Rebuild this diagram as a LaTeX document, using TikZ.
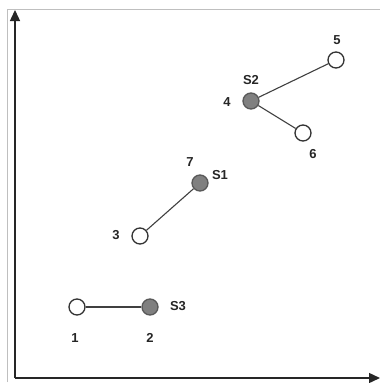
\documentclass[tikz,border=0pt]{standalone}
\usepackage{fontspec}
\setmainfont{Liberation Sans}
\usetikzlibrary{arrows.meta}
\begin{document}
\begin{tikzpicture}[x=1pt,y=-1pt,
  opennode/.style={circle,draw=black!80,line width=1.3pt,fill=white,minimum size=16pt,inner sep=0pt},
  fullnode/.style={circle,draw=black!65,line width=1.3pt,fill=black!50,minimum size=16pt,inner sep=0pt},
  lbl/.style={font=\fontsize{13}{15}\selectfont\bfseries,inner sep=0pt,text=black!85},
  link/.style={draw=black!75,line width=1.1pt}]
\useasboundingbox (0,0) rectangle (380,383);
\fill[white] (0,0) rectangle (380,383);
\draw[black!25,line width=0.8pt] (7,382) -- (7,9) -- (380,9);
\coordinate (o) at (15,378);
\coordinate (yt) at (15,10);
\coordinate (xt) at (380,378);
\draw[black!85,line width=1.4pt,-{Triangle[length=11pt,width=10pt]}] (o) -- (yt);
\draw[black!85,line width=1.4pt,-{Triangle[length=11pt,width=10pt]}] (o) -- (xt);
\node[opennode] (n1) at (77,307) {};
\node[fullnode] (n2) at (150,307) {};
\node[opennode] (n3) at (140,236) {};
\node[fullnode] (n7) at (200,183) {};
\node[fullnode] (n4) at (251,101) {};
\node[opennode] (n5) at (336,60) {};
\node[opennode] (n6) at (303,133) {};
\draw[link] (n1) -- (n2);
\draw[link] (n3) -- (n7);
\draw[link] (n4) -- (n5);
\draw[link] (n4) -- (n6);
\node[lbl] (l1) at (75,338) {1};
\node[lbl] (l2) at (150,338) {2};
\node[lbl] (l3) at (178,306) {S3};
\node[lbl] (l4) at (116,235) {3};
\node[lbl] (l5) at (190,162) {7};
\node[lbl] (l6) at (220,175) {S1};
\node[lbl] (l7) at (227,102) {4};
\node[lbl] (l8) at (251,80) {S2};
\node[lbl] (l9) at (337,40) {5};
\node[lbl] (l10) at (313,154) {6};
\end{tikzpicture}
\end{document}
